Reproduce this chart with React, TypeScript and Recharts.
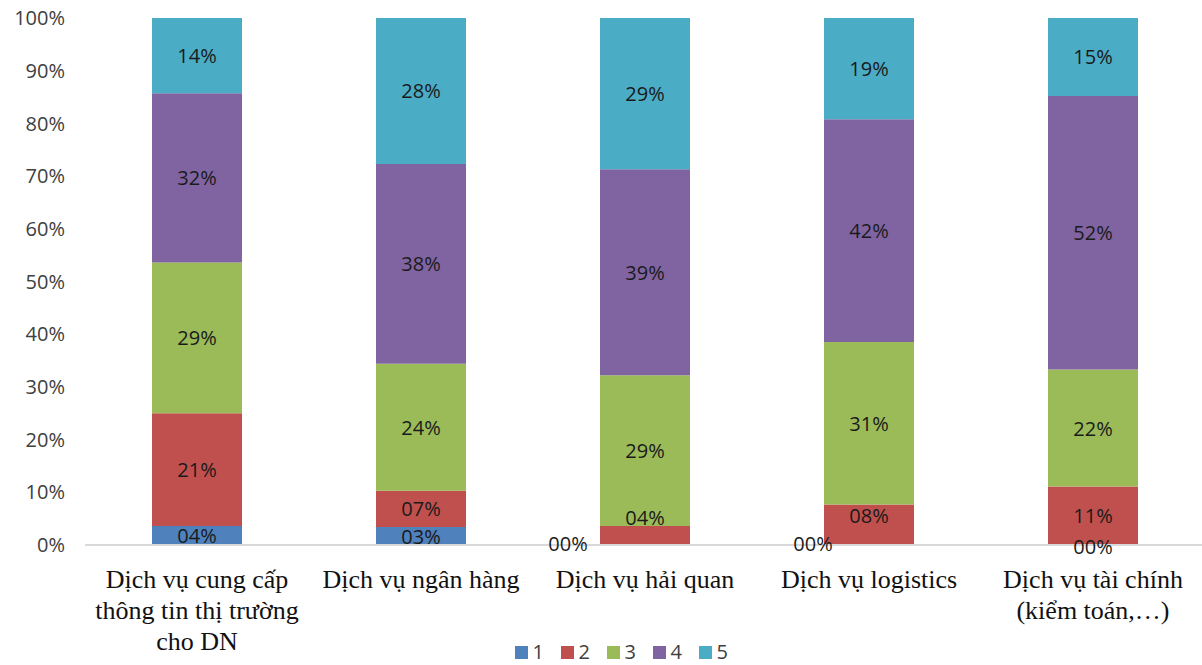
import { BarChart, Bar, XAxis, YAxis, Legend, LabelList } from "recharts";

/* ── Data (share of responses, %) ─────────────── */
const CATEGORIES = [
  "Dịch vụ cung cấp\nthông tin thị trường\ncho DN",
  "Dịch vụ ngân hàng",
  "Dịch vụ hải quan",
  "Dịch vụ logistics",
  "Dịch vụ tài chính\n(kiểm toán,…)",
];

const LEVEL_1 = [3.6, 3.4, 0, 0, 0];
const LEVEL_2 = [21.4, 6.9, 3.6, 7.7, 11.1];
const LEVEL_3 = [28.6, 24.1, 28.6, 30.8, 22.2];
const LEVEL_4 = [32.1, 37.9, 39.1, 42.3, 51.9];
const LEVEL_5 = [14.3, 27.7, 28.7, 19.2, 14.8];

const Y_TICKS = [0, 10, 20, 30, 40, 50, 60, 70, 80, 90, 100];

const SERIES = [
  { key: "s1", name: "1", color: "#4F81BD", values: LEVEL_1 },
  { key: "s2", name: "2", color: "#C0504D", values: LEVEL_2 },
  { key: "s3", name: "3", color: "#9BBB59", values: LEVEL_3 },
  { key: "s4", name: "4", color: "#8064A2", values: LEVEL_4 },
  { key: "s5", name: "5", color: "#4BACC6", values: LEVEL_5 },
];

const rows = CATEGORIES.map((cat, i) => {
  const row: Record<string, string | number> = { cat };
  SERIES.forEach((s) => (row[s.key] = s.values[i]));
  return row;
});

// labels that sit off-centre so they don't collide with neighbours
const LABEL_NUDGE: Record<string, [number, number]> = {
  "s1-2": [-77, -2],
  "s1-3": [-56, -2],
  "s1-4": [0, 1],
  "s2-2": [0, -18],
  "s2-3": [0, -9],
};

const SANS = "'Open Sans', sans-serif";
const SERIF = "'Liberation Serif', 'Times New Roman', serif";

const pct = (v: number) => `${String(Math.round(v)).padStart(2, "0")}%`;

const ValueText = ({ x, y, value }: { x: number; y: number; value: number }) => (
  <text
    x={x}
    y={y}
    textAnchor="middle"
    dominantBaseline="central"
    fontFamily={SANS}
    fontSize={20}
    fill="#1a1a1a"
  >
    {pct(value)}
  </text>
);

const makeLabel = (key: string, values: number[]) => (props: any) => {
  const { x, y, width, height, index } = props;
  const cx = Number(x) + Number(width) / 2;
  const cy = Number(y) + Number(height) / 2;
  const [dx, dy] = LABEL_NUDGE[`${key}-${index}`] || [0, 0];
  // level-1 segments of zero height get no label of their own, so
  // their "00%" is drawn from the segment stacked right above them
  const zeroBelow = key === "s2" && LEVEL_1[index] === 0;
  const [zx, zy] = LABEL_NUDGE[`s1-${index}`] || [0, 0];
  return (
    <g>
      <ValueText x={cx + dx} y={cy + dy} value={values[index]} />
      {zeroBelow && <ValueText x={cx + zx} y={Number(y) + Number(height) + zy} value={LEVEL_1[index]} />}
    </g>
  );
};

const CategoryTick = (props: any) => {
  const { x, y, payload } = props;
  const lines = String(payload.value).split("\n");
  return (
    <g>
      {lines.map((line, i) => (
        <text
          key={i}
          x={x}
          y={y + 26 + i * 31}
          textAnchor="middle"
          dominantBaseline="central"
          fontFamily={SERIF}
          fontSize={26}
          fill="#111"
        >
          {line}
        </text>
      ))}
    </g>
  );
};

const LegendRow = () => (
  <div style={{ display: "flex", justifyContent: "center", paddingLeft: 46, paddingTop: 7 }}>
    {SERIES.map((s) => (
      <div key={s.key} style={{ display: "flex", alignItems: "center", width: 46, height: 20 }}>
        <span style={{ width: 13, height: 13, background: s.color, display: "inline-block" }} />
        <span style={{ marginLeft: 5, fontFamily: SANS, fontSize: 20, color: "#404040", lineHeight: "20px" }}>
          {s.name}
        </span>
      </div>
    ))}
  </div>
);

export default function App() {
  return (
    <div style={{ position: "absolute", left: 0, top: 0, width: 1202, height: 665, overflow: "hidden", background: "#fff" }}>
      <BarChart width={1210} height={665} data={rows} margin={{ top: 18, right: 5, left: 8, bottom: 0 }} barSize={90}>
        <XAxis
          dataKey="cat"
          height={90}
          interval={0}
          tickLine={false}
          axisLine={{ stroke: "#D9D9D9", strokeWidth: 2 }}
          tick={<CategoryTick />}
        />
        <YAxis
          width={77}
          domain={[0, 100]}
          ticks={Y_TICKS}
          tickFormatter={(v) => `${v}%`}
          axisLine={false}
          tickLine={false}
          tickMargin={14}
          tick={{ fontFamily: SANS, fontSize: 20, fill: "#404040" }}
        />
        <Legend verticalAlign="bottom" height={30} content={<LegendRow />} />
        {SERIES.map((s) => (
          <Bar key={s.key} dataKey={s.key} name={s.name} stackId="a" fill={s.color} isAnimationActive={false}>
            <LabelList dataKey={s.key} content={makeLabel(s.key, s.values)} />
          </Bar>
        ))}
      </BarChart>
    </div>
  );
}
